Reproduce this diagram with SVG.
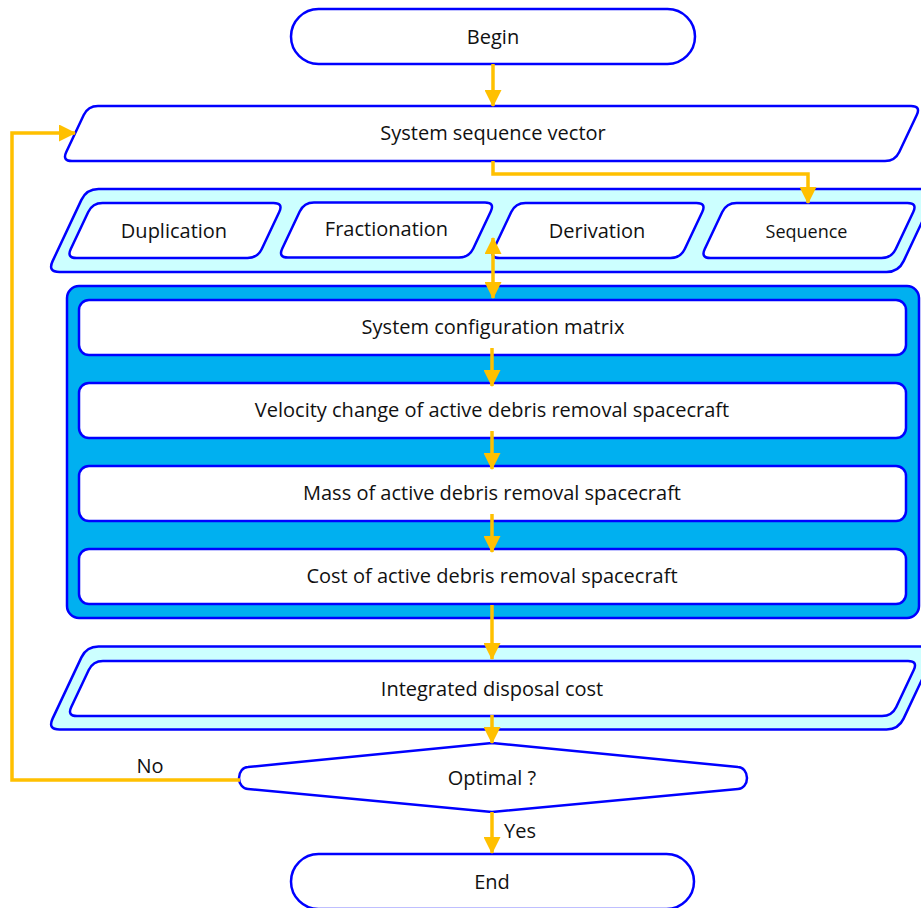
<svg xmlns="http://www.w3.org/2000/svg" width="921" height="908" viewBox="0 0 921 908">
  <style>
    .ln { stroke: #0000FF; stroke-width: 2.5; }
    .white { fill: #FFFFFF; }
    .cyan { fill: #CCFFFF; }
    .deep { fill: #00B0F0; }
    .lbl { font-family: "Open Sans", "Noto Sans", sans-serif; font-size: 20px; fill: #111111; text-anchor: middle; }
    .small { font-size: 18px; }
    .flow { fill: none; stroke: #FFC000; stroke-width: 3.5; stroke-linejoin: miter; }
  </style>
  <defs>
    <marker id="arrow" markerUnits="userSpaceOnUse" markerWidth="17" markerHeight="17" refX="16" refY="8.5" orient="auto-start-reverse" viewBox="0 0 17 17">
      <path d="M0,0 L17,8.5 L0,17 Z" fill="#FFC000"/>
    </marker>
    <!-- small rounded parallelogram, 191 x 55 -->
    <path id="para-small" d="M-72.5,-27.5 L98.5,-27.5 Q108.5,-27.5 104.23,-18.46 L86.77,18.46 Q82.5,27.5 72.5,27.5 L-98.5,27.5 Q-108.5,27.5 -104.23,18.46 L-86.77,-18.46 Q-82.5,-27.5 -72.5,-27.5 Z"/>
    <!-- wide rounded parallelogram band, 851 x 83 -->
    <path id="para-band" d="M-394,-41.5 L433,-41.5 Q445,-41.5 439.9,-30.64 L411.1,30.64 Q406,41.5 394,41.5 L-433,41.5 Q-445,41.5 -439.9,30.64 L-411.1,-30.64 Q-406,-41.5 -394,-41.5 Z"/>
  </defs>

  <!-- start terminator -->
  <g id="begin">
    <rect class="white ln" x="291" y="9" width="404" height="55" rx="27.5"/>
    <text class="lbl" x="493" y="44">Begin</text>
  </g>

  <!-- system sequence vector -->
  <g id="sequence-vector">
    <path class="white ln" transform="translate(491.5,133.5)" d="M-393.5,-27.5 L419.5,-27.5 Q429.5,-27.5 425.23,-18.46 L407.77,18.46 Q403.5,27.5 393.5,27.5 L-419.5,27.5 Q-429.5,27.5 -425.23,18.46 L-407.77,-18.46 Q-403.5,-27.5 -393.5,-27.5 Z"/>
    <text class="lbl" x="493" y="140">System sequence vector</text>
  </g>

  <!-- operators band -->
  <g id="operators">
    <use href="#para-band" class="cyan ln" transform="translate(492.5,230.5)"/>
    <g id="duplication">
      <use href="#para-small" class="white ln" transform="translate(175,230.5)"/>
      <text class="lbl" x="174" y="238">Duplication</text>
    </g>
    <g id="fractionation">
      <use href="#para-small" class="white ln" transform="translate(386.5,230)"/>
      <text class="lbl" x="386.5" y="236">Fractionation</text>
    </g>
    <g id="derivation">
      <use href="#para-small" class="white ln" transform="translate(598,230.5)"/>
      <text class="lbl" x="597" y="238">Derivation</text>
    </g>
    <g id="sequence">
      <use href="#para-small" class="white ln" transform="translate(809,230.5)"/>
      <text class="lbl small" x="806.5" y="238">Sequence</text>
    </g>
  </g>

  <!-- evaluation chain -->
  <g id="evaluation">
    <rect class="deep ln" x="67" y="286" width="852" height="332" rx="12"/>
    <g id="config-matrix">
      <rect class="white ln" x="79" y="300" width="827" height="55" rx="10"/>
      <text class="lbl" x="493" y="334">System configuration matrix</text>
    </g>
    <g id="velocity-change">
      <rect class="white ln" x="79" y="383" width="827" height="55" rx="10"/>
      <text class="lbl" x="492" y="417">Velocity change of active debris removal spacecraft</text>
    </g>
    <g id="mass">
      <rect class="white ln" x="79" y="466" width="827" height="55" rx="10"/>
      <text class="lbl" x="492" y="500">Mass of active debris removal spacecraft</text>
    </g>
    <g id="cost">
      <rect class="white ln" x="79" y="549" width="827" height="55" rx="10"/>
      <text class="lbl" x="492" y="583">Cost of active debris removal spacecraft</text>
    </g>
  </g>

  <!-- integrated disposal cost -->
  <g id="disposal-cost">
    <use href="#para-band" class="cyan ln" transform="translate(492.5,688)"/>
    <path class="white ln" transform="translate(492.5,688.5)" d="M-389.5,-27.5 L415.5,-27.5 Q425.5,-27.5 421.23,-18.46 L403.77,18.46 Q399.5,27.5 389.5,27.5 L-415.5,27.5 Q-425.5,27.5 -421.23,18.46 L-403.77,-18.46 Q-399.5,-27.5 -389.5,-27.5 Z"/>
    <text class="lbl" x="492" y="696">Integrated disposal cost</text>
  </g>

  <!-- decision -->
  <g id="optimal">
    <path class="white ln" d="M492,743 L738,767 A9,11 0 0 1 738,789 L492,812 L248,789 A9,11 0 0 1 248,767 Z"/>
    <text class="lbl" x="492" y="785">Optimal ?</text>
  </g>

  <!-- end terminator -->
  <g id="end">
    <rect class="white ln" x="291" y="854" width="403" height="55" rx="27.5"/>
    <text class="lbl" x="492" y="889">End</text>
  </g>

  <!-- connectors -->
  <g id="connectors">
    <path class="flow" d="M493,64 L493,106" marker-end="url(#arrow)"/>
    <path class="flow" d="M493,161 L493,174 L808,174 L808,203" marker-end="url(#arrow)"/>
    <path class="flow" d="M493,238 L493,298" marker-start="url(#arrow)" marker-end="url(#arrow)"/>
    <path class="flow" d="M492,348 L492,386" marker-end="url(#arrow)"/>
    <path class="flow" d="M492,431 L492,469" marker-end="url(#arrow)"/>
    <path class="flow" d="M492,514 L492,552" marker-end="url(#arrow)"/>
    <path class="flow" d="M492,605 L492,659" marker-end="url(#arrow)"/>
    <path class="flow" d="M492,715 L492,743" marker-end="url(#arrow)"/>
    <path class="flow" d="M240,780 L12,780 L12,133 L75,133" marker-end="url(#arrow)"/>
    <path class="flow" d="M492,812 L492,853" marker-end="url(#arrow)"/>
    <text class="lbl" x="150" y="773">No</text>
    <text class="lbl" x="520" y="838">Yes</text>
  </g>
</svg>
